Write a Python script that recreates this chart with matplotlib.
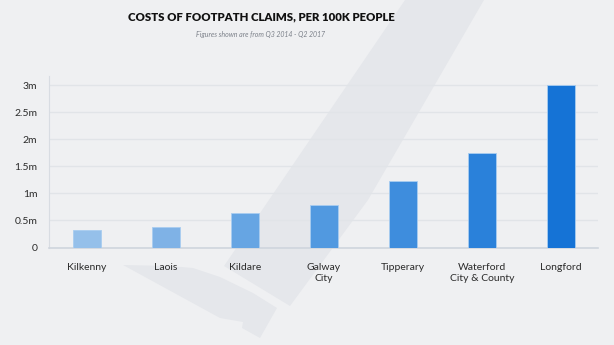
import matplotlib.pyplot as plt
from matplotlib.patches import Polygon

counties = ['Kilkenny', 'Laois', 'Kildare', 'Galway\nCity', 'Tipperary',
            'Waterford\nCity & County', 'Longford']
costs = [0.32, 0.37, 0.63, 0.79, 1.23, 1.75, 3.0]   # millions
bar_colors = ['#95c0ea', '#7fb2e6', '#66a5e3', '#5199e0', '#3e8ddd', '#2a81da', '#1573d6']
y_ticks = [0, 0.5, 1, 1.5, 2, 2.5, 3]
y_labels = ['0', '0.5m', '1m', '1.5m', '2m', '2.5m', '3m']

bg = '#eff0f2'
W, H = 614, 345

fig = plt.figure(figsize=(6.14, 3.45), dpi=100)
fig.patch.set_facecolor(bg)

# faint tick-mark watermark behind the chart (pixel coords -> figure fraction)
def px(pts):
    return [(x / W, 1 - y / H) for x, y in pts]

stroke = px([(405, 0), (484, 0), (368, 200), (290, 306), (224, 266)])
hook = px([(123, 265), (170, 266), (193, 268), (220, 277), (253, 293), (277, 308),
           (260, 338), (242, 328), (243, 322), (220, 318)])
for shape in (stroke, hook):
    fig.patches.append(Polygon(shape, closed=True, transform=fig.transFigure,
                               facecolor='#e5e7eb', edgecolor='none', zorder=-5))

ax = fig.add_axes([49 / W, 1 - 247.5 / H, 549 / W, 171.5 / H])
ax.set_facecolor('none')
ax.set_zorder(2)

x = range(len(counties))
ax.bar(x, costs, width=0.355, color=bar_colors, edgecolor='#a9cdf0',
       linewidth=0.6, zorder=3)

ax.set_xlim(-0.481, 6.468)
ax.set_ylim(0, 3.17)
ax.set_yticks(y_ticks)
ax.set_yticklabels(y_labels)
ax.set_xticks(list(x))
ax.set_xticklabels(counties, linespacing=1.25)
ax.tick_params(axis='both', length=0, labelsize=7.5, labelcolor='#2b2b2b')
ax.tick_params(axis='y', pad=8.5)
ax.tick_params(axis='x', pad=11)
for lab in ax.get_xticklabels() + ax.get_yticklabels():
    lab.set_fontfamily('Lato')

ax.grid(axis='y', color='#e1e4e8', linewidth=1)
ax.set_axisbelow(True)
for s in ['top', 'right']:
    ax.spines[s].set_visible(False)
ax.spines['left'].set_color('#d8dce2')
ax.spines['bottom'].set_color('#cfd5dd')
ax.spines['bottom'].set_linewidth(1.2)

fig.text(261 / W, 1 - 17 / H, 'COSTS OF FOOTPATH CLAIMS, PER 100K PEOPLE',
         ha='center', va='center', fontsize=8.2, fontweight='heavy',
         family='Lato', color='#111111')
fig.text(261 / W, 1 - 35 / H, 'Figures shown are from Q3 2014 - Q2 2017',
         ha='center', va='center', fontsize=5.0, style='italic',
         family='Lato', color='#7b8089')

fig.savefig('out.png', dpi=100, facecolor=bg)
